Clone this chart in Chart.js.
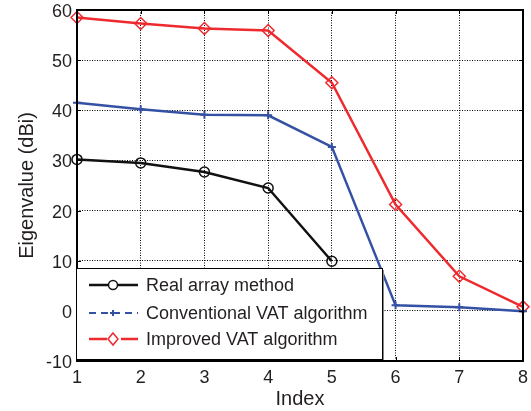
<!DOCTYPE html>
<html>
<head>
<meta charset="utf-8">
<script src="https://cdn.jsdelivr.net/npm/chart.js@4/dist/chart.umd.min.js"></script>
<style>
  html, body { margin: 0; padding: 0; background: #fff; }
  #wrap { width: 531px; height: 411px; }
</style>
</head>
<body>
<div id="wrap"><canvas id="eigenChart" width="531" height="411"></canvas></div>
<script>
// x axis categories
const indexLabels = ['1', '2', '3', '4', '5', '6', '7', '8'];

// series values (dBi)
const realArray = [30.2, 29.5, 27.7, 24.5, 9.9];
const conventionalVat = [41.5, 40.2, 39.1, 39.0, 32.7, 1.1, 0.7, -0.1];
const improvedVat = [58.5, 57.3, 56.3, 55.9, 45.5, 21.2, 6.9, 0.8];

// legend texts
const seriesNames = ['Real array method', 'Conventional VAT algorithm', 'Improved VAT algorithm'];

const yMin = -10;
const yMax = 60;
const yStep = 10;

const FONT = '"Liberation Sans", Arial, sans-serif';
const TEXT = '#231f20';
const RED = '#ee2a2e';
const BLUE = '#3551a3';
const BLACK = '#111111';

// frame with small inward ticks on all four sides (matlab look)
const framePlugin = {
  id: 'frame',
  afterDatasetsDraw(chart) {
    const { ctx, chartArea: a, scales } = chart;
    ctx.save();
    ctx.strokeStyle = '#000';
    ctx.lineWidth = 1;
    ctx.setLineDash([]);
    // ticks
    scales.x.ticks.forEach((t, i) => {
      const px = Math.round(scales.x.getPixelForTick(i)) + 0.5;
      ctx.beginPath();
      ctx.moveTo(px, a.top); ctx.lineTo(px, a.top + 4);
      ctx.moveTo(px, a.bottom); ctx.lineTo(px, a.bottom - 4);
      ctx.stroke();
    });
    scales.y.ticks.forEach((t) => {
      const py = Math.round(scales.y.getPixelForValue(t.value)) + 0.5;
      ctx.beginPath();
      ctx.moveTo(a.left, py); ctx.lineTo(a.left + 4, py);
      ctx.moveTo(a.right, py); ctx.lineTo(a.right - 4, py);
      ctx.stroke();
    });
    ctx.lineWidth = 2;
    ctx.strokeRect(a.left, a.top, a.right - a.left, a.bottom - a.top);
    ctx.restore();
  }
};

// legend box placed inside the plot at the lower left
const boxLegendPlugin = {
  id: 'boxLegend',
  afterDraw(chart) {
    const ctx = chart.ctx;
    const bx = 76, by = 268, bw = 306, bh = 91;
    ctx.save();
    ctx.fillStyle = '#fff';
    ctx.fillRect(bx, by, bw, bh);
    ctx.strokeStyle = '#888';
    ctx.lineWidth = 2;
    ctx.beginPath();
    ctx.moveTo(bx + bw + 1, by + 2); ctx.lineTo(bx + bw + 1, by + bh + 1);
    ctx.stroke();
    ctx.strokeStyle = '#000';
    ctx.lineWidth = 1;
    ctx.strokeRect(bx + 0.5, by + 0.5, bw, bh);

    const rows = [285, 313, 339];
    const x0 = 89, x1 = 138, mx = 113;
    ctx.font = '18px ' + FONT;
    ctx.textBaseline = 'middle';
    ctx.fillStyle = TEXT;
    rows.forEach((y, i) => ctx.fillText(seriesNames[i], 146, y + 1));

    // real array: solid black line + circle
    ctx.strokeStyle = BLACK;
    ctx.lineWidth = 2.5;
    ctx.beginPath(); ctx.moveTo(x0, rows[0]); ctx.lineTo(x1, rows[0]); ctx.stroke();
    ctx.lineWidth = 1.5;
    ctx.fillStyle = '#fff';
    ctx.beginPath(); ctx.arc(mx, rows[0], 4.5, 0, Math.PI * 2); ctx.fill(); ctx.stroke();

    // conventional: blue dashed + small plus
    ctx.strokeStyle = BLUE;
    ctx.lineWidth = 2;
    ctx.setLineDash([7, 5]);
    ctx.beginPath(); ctx.moveTo(x0, rows[1]); ctx.lineTo(x1, rows[1]); ctx.stroke();
    ctx.setLineDash([]);
    ctx.beginPath();
    ctx.moveTo(mx - 3, rows[1]); ctx.lineTo(mx + 3, rows[1]);
    ctx.moveTo(mx, rows[1] - 3); ctx.lineTo(mx, rows[1] + 3);
    ctx.stroke();

    // improved: red line, diamond, dash
    ctx.strokeStyle = RED;
    ctx.lineWidth = 2.5;
    ctx.beginPath();
    ctx.moveTo(x0, rows[2]); ctx.lineTo(107, rows[2]);
    ctx.moveTo(121, rows[2]); ctx.lineTo(x1, rows[2]);
    ctx.stroke();
    ctx.lineWidth = 1.5;
    ctx.beginPath();
    ctx.moveTo(mx, rows[2] - 6); ctx.lineTo(mx + 5, rows[2]);
    ctx.lineTo(mx, rows[2] + 6); ctx.lineTo(mx - 5, rows[2]);
    ctx.closePath();
    ctx.fill(); ctx.stroke();
    ctx.restore();
  }
};

const ctx = document.getElementById('eigenChart').getContext('2d');

const data = {
  labels: indexLabels,
  datasets: [
    {
      label: seriesNames[0],
      data: realArray,
      borderColor: BLACK,
      borderWidth: 2.5,
      pointStyle: 'circle',
      pointRadius: 5,
      pointBorderWidth: 1.5,
      pointBorderColor: BLACK,
      pointBackgroundColor: 'rgba(0,0,0,0)',
      clip: false
    },
    {
      label: seriesNames[1],
      data: conventionalVat,
      borderColor: BLUE,
      borderWidth: 2.5,
      pointStyle: 'cross',
      pointRadius: 4,
      pointBorderWidth: 2,
      pointBorderColor: BLUE,
      clip: false
    },
    {
      label: seriesNames[2],
      data: improvedVat,
      borderColor: RED,
      borderWidth: 2.5,
      pointStyle: 'rectRot',
      pointRadius: 6,
      pointBorderWidth: 1.5,
      pointBorderColor: RED,
      pointBackgroundColor: 'rgba(0,0,0,0)',
      clip: false
    }
  ]
};

const config = {
  type: 'line',
  data: data,
  plugins: [framePlugin, boxLegendPlugin],
  options: {
    responsive: false,
    animation: false,
    events: [],
    layout: {
      padding: { top: 10, right: 8, left: 0, bottom: 0 }
    },
    scales: {
      x: {
        offset: false,
        ticks: {
          color: TEXT,
          padding: 6,
          maxRotation: 0,
          font: { family: FONT, size: 18 }
        },
        grid: {
          color: '#000',
          lineWidth: 1,
          drawTicks: false
        },
        border: { display: false, dash: [1, 1.5] },
        title: {
          display: true,
          text: 'Index',
          color: TEXT,
          padding: { top: 0, bottom: 0 },
          font: { family: FONT, size: 20 }
        },
        afterFit: (scale) => {
          scale.height = 50;
          // let the plot run to the layout padding, not the label widths
          scale.paddingLeft = 0;
          scale.paddingRight = 0;
        }
      },
      y: {
        min: yMin,
        max: yMax,
        ticks: {
          stepSize: yStep,
          color: TEXT,
          padding: 5,
          labelOffset: 2,
          font: { family: FONT, size: 18 }
        },
        grid: {
          color: '#000',
          lineWidth: 1,
          drawTicks: false
        },
        border: { display: false, dash: [1, 1.5] },
        title: {
          display: true,
          text: 'Eigenvalue (dBi)',
          color: TEXT,
          padding: { top: 15, bottom: 0 },
          font: { family: FONT, size: 20 }
        },
        afterFit: (scale) => {
          scale.width = 77;
          scale.paddingTop = 0;
          scale.paddingBottom = 0;
        }
      }
    },
    plugins: {
      legend: { display: false },
      tooltip: { enabled: false }
    }
  }
};

const eigenChart = new Chart(ctx, config);
</script>
</body>
</html>
